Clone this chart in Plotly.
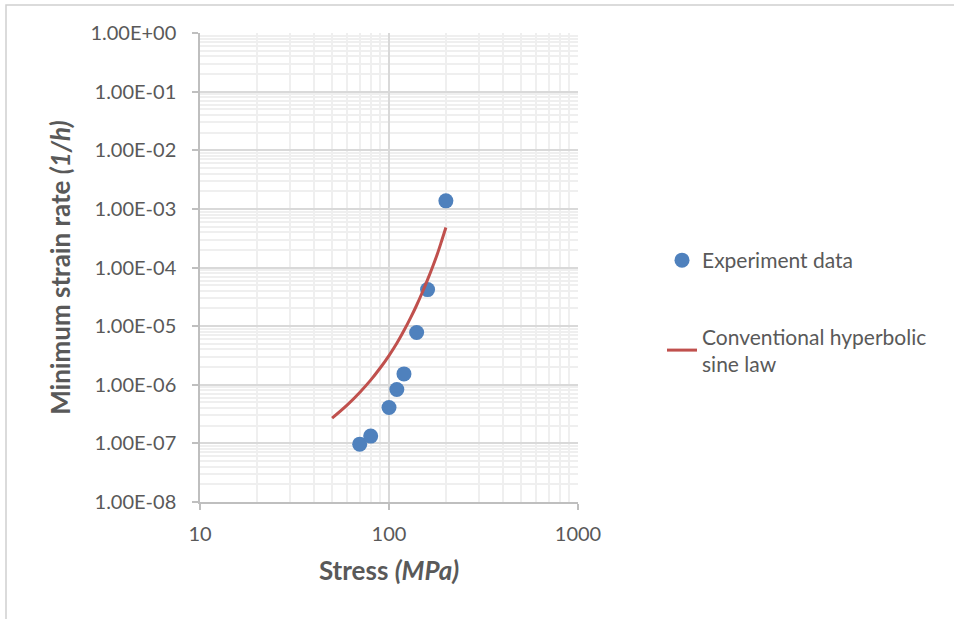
import plotly.graph_objects as go

# Experiment data
exp_stress = [70, 80, 100, 110, 120, 140, 160, 200]
exp_rate = [9.7e-8, 1.33e-7, 4.1e-7, 8.3e-7, 1.53e-6, 7.8e-6, 4.2e-5, 1.37e-3]

# Conventional hyperbolic sine law curve
law_stress = [50, 60, 70, 80, 90, 100, 110, 120, 130, 140, 150, 160, 170, 180, 190, 200]
law_rate = [2.7e-7, 4.5e-7, 7.4e-7, 1.2e-6, 1.95e-6, 3.15e-6, 5.1e-6, 8.4e-6,
            1.38e-5, 2.27e-5, 3.75e-5, 6.2e-5, 1.02e-4, 1.68e-4, 2.85e-4, 4.8e-4]

y_tickvals = [1e-8, 1e-7, 1e-6, 1e-5, 1e-4, 1e-3, 1e-2, 1e-1, 1e0]
y_ticktext = ["1.00E-08", "1.00E-07", "1.00E-06", "1.00E-05", "1.00E-04",
              "1.00E-03", "1.00E-02", "1.00E-01", "1.00E+00"]
x_tickvals = [10, 100, 1000]
x_ticktext = ["10", "100", "1000"]

FONT = "Lato, 'Open Sans', sans-serif"
GREY = "#595959"

fig = go.Figure()
fig.add_trace(go.Scatter(
    x=exp_stress, y=exp_rate, mode="markers", name="Experiment data",
    marker=dict(color="#4F81BD", size=15, line=dict(width=0)),
    legendgroup="a",
))
fig.add_trace(go.Scatter(
    x=law_stress, y=law_rate, mode="lines",
    name="Conventional hyperbolic<br>sine law",
    line=dict(color="#C0504D", width=3, shape="spline"),
    legendgroup="b",
))

W, H = 954, 619
L, R, T, B = 200, 578, 33, 502
pw, ph = R - L, B - T

def px(x):
    return (x - L) / pw

def py(y):
    return (B - y) / ph

fig.update_layout(
    width=W, height=H,
    margin=dict(l=L, r=W - R, t=T, b=H - B, autoexpand=False),
    paper_bgcolor="white", plot_bgcolor="white",
    font=dict(family=FONT, color=GREY, size=16),
    showlegend=True,
    legend=dict(
        x=px(662), y=py(240), xanchor="left", yanchor="top",
        font=dict(size=21, color=GREY, family=FONT),
        traceorder="grouped", tracegroupgap=46,
        bgcolor="rgba(0,0,0,0)",
    ),
    xaxis=dict(
        type="log", range=[1, 3],
        tickvals=x_tickvals, ticktext=x_ticktext,
        showgrid=True, gridcolor="#d9d9d9", gridwidth=1.5,
        minor=dict(showgrid=True, gridcolor="#efefef", gridwidth=1.5,
                   dtick="D1"),
        showline=True, linecolor="#bfbfbf", linewidth=1.5,
        ticks="outside", ticklen=6, tickcolor="#bfbfbf", tickwidth=1.5,
        tickfont=dict(size=20, color=GREY),
        ticklabelstandoff=7,
        title=dict(text="<b>Stress <i>(MPa)</i></b>", font=dict(size=26, color=GREY),
                   standoff=18),
        zeroline=False, mirror=False,
    ),
    yaxis=dict(
        type="log", range=[-8, 0],
        tickvals=y_tickvals, ticktext=y_ticktext,
        showgrid=True, gridcolor="#d9d9d9", gridwidth=1.5,
        minor=dict(showgrid=True, gridcolor="#efefef", gridwidth=1.5,
                   dtick="D1"),
        showline=True, linecolor="#bfbfbf", linewidth=1.5,
        ticks="outside", ticklen=6, tickcolor="#bfbfbf", tickwidth=1.5,
        tickfont=dict(size=20, color=GREY),
        ticklabelstandoff=12,
        title=dict(text="<b>Minimum strain rate <i>(1/h)</i></b>",
                   font=dict(size=26, color=GREY), standoff=12),
        zeroline=False,
    ),
    shapes=[dict(
        type="rect", xref="paper", yref="paper",
        x0=px(6), x1=px(W + 10), y0=py(H + 10), y1=py(5),
        line=dict(color="#d0d0d0", width=1.5), fillcolor="rgba(0,0,0,0)",
        layer="above",
    )],
)

fig.write_html("out.html",
               config={"displayModeBar": False},
               post_script="document.body.style.margin='0';document.body.style.padding='0';")
